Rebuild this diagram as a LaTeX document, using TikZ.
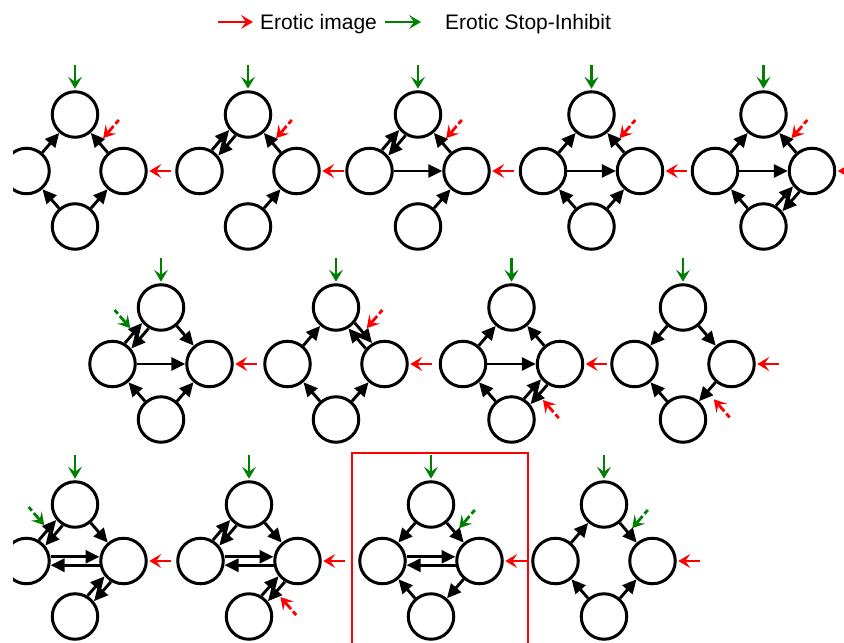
\documentclass[tikz,border=0pt]{standalone}
\usepackage{fontspec}
\setmainfont{Liberation Sans}
\usetikzlibrary{arrows.meta,calc}

\definecolor{inred}{RGB}{255,0,0}
\definecolor{ingreen}{RGB}{0,128,0}

\tikzset{
  cell/.style={circle,draw,line width=3pt,minimum size=45.5pt,inner sep=0pt},
  edge/.style={line width=2.9pt,-{Triangle[length=14pt,width=13pt]}},
  pair/.style={edge,shorten <=24pt,shorten >=24pt},
  feed/.style={line width=2.8pt,-{Stealth[length=12pt,width=14pt,inset=5pt]}},
  rin/.style={feed,inred},
  gin/.style={feed,ingreen},
  dashin/.style={feed,#1,dash pattern=on 5pt off 3pt on 40pt off 0pt},
  motif/.pic={
    \coordinate (-C) at (0,0);
    \node[cell] (-T) at (0,-56.5) {};
    \node[cell] (-L) at (-48.5,0) {};
    \node[cell] (-R) at (48.5,0) {};
    \node[cell] (-B) at (0,55.5) {};
    \draw[gin] ($(-T.north)+(0,-25)$) -- ($(-T.north)+(0,-1.5)$);
    \draw[rin] ($(-R.east)+(23,0)$) -- ($(-R.east)+(1.5,0)$);
  }
}

% one-way connector
\newcommand\edg[3]{\draw[edge] (#1-#2) -- (#1-#3);}
% two-way connector drawn as two parallel arrows
\newcommand\dbl[3]{%
  \draw[pair] ($(#1-#2)!4.2pt!90:(#1-#3)$) -- ($(#1-#3)!4.2pt!-90:(#1-#2)$);
  \draw[pair] ($(#1-#3)!4.2pt!90:(#1-#2)$) -- ($(#1-#2)!4.2pt!-90:(#1-#3)$);}
% dashed input acting on a connector, from outside the motif
% #1 colour, #2 motif, #3 #4 ends of the connector, #5 gap to the connector
\newcommand\mod[5]{%
  \draw[dashin=#1] ($(#2-#3)!0.5!(#2-#4)!-#5-24pt!(#2-C)$) -- ($(#2-#3)!0.5!(#2-#4)!-#5!(#2-C)$);}

\begin{document}
\begin{tikzpicture}[x=1pt,y=-1pt]
\useasboundingbox (0,0) rectangle (844,643);
\clip (13,0) rectangle (844,643);

% legend
\draw[rin,line width=2pt] (218,22) coordinate (lr) -- (253,22) coordinate (lrt);
\node[anchor=base west,font=\fontsize{21pt}{25pt}\selectfont,inner sep=0pt] (lrtext) at (260,29.5) {Erotic image};
\draw[gin,line width=2pt] (385,22) coordinate (lg) -- (421,22) coordinate (lgt);
\node[anchor=base west,font=\fontsize{21pt}{25pt}\selectfont,inner sep=0pt] (lgtext) at (445,29.5) {Erotic Stop-Inhibit};

% motifs
\pic (m1) at (75,171) {motif};
\pic (m2) at (248,171) {motif};
\pic (m3) at (418,171) {motif};
\pic (m4) at (591.5,171) {motif};
\pic (m5) at (763.5,171) {motif};
\pic (m6) at (161,364) {motif};
\pic (m7) at (336,364) {motif};
\pic (m8) at (511.5,364) {motif};
\pic (m9) at (683,364) {motif};
\pic (m10) at (75,561) {motif};
\pic (m11) at (249,561) {motif};
\pic (m12) at (431,561) {motif};
\pic (m13) at (604,561) {motif};

% row 1
\edg{m1}{L}{T}\edg{m1}{R}{T}\edg{m1}{B}{L}\edg{m1}{B}{R}
\mod{inred}{m1}{T}{R}{6pt}

\dbl{m2}{L}{T}\edg{m2}{R}{T}\edg{m2}{B}{R}
\mod{inred}{m2}{T}{R}{6pt}

\dbl{m3}{L}{T}\edg{m3}{L}{R}\edg{m3}{R}{T}\edg{m3}{B}{R}
\mod{inred}{m3}{T}{R}{6pt}

\edg{m4}{L}{T}\edg{m4}{R}{T}\edg{m4}{L}{R}\edg{m4}{B}{L}\edg{m4}{B}{R}
\mod{inred}{m4}{T}{R}{6pt}

\edg{m5}{L}{T}\edg{m5}{R}{T}\edg{m5}{L}{R}\edg{m5}{B}{L}\dbl{m5}{B}{R}
\mod{inred}{m5}{T}{R}{6pt}

% row 2
\dbl{m6}{L}{T}\edg{m6}{T}{R}\edg{m6}{L}{R}\edg{m6}{B}{L}\edg{m6}{B}{R}
\mod{ingreen}{m6}{T}{L}{10pt}

\edg{m7}{L}{T}\dbl{m7}{T}{R}\edg{m7}{B}{L}\edg{m7}{B}{R}
\mod{inred}{m7}{T}{R}{10pt}

\edg{m8}{L}{T}\edg{m8}{R}{T}\edg{m8}{L}{R}\edg{m8}{B}{L}\dbl{m8}{B}{R}
\mod{inred}{m8}{B}{R}{11pt}

\edg{m9}{T}{L}\edg{m9}{T}{R}\edg{m9}{R}{B}\edg{m9}{B}{L}
\mod{inred}{m9}{B}{R}{10pt}

% row 3
\dbl{m10}{L}{T}\edg{m10}{T}{R}\dbl{m10}{L}{R}\dbl{m10}{B}{R}
\mod{ingreen}{m10}{T}{L}{10pt}

\dbl{m11}{L}{T}\edg{m11}{T}{R}\dbl{m11}{L}{R}\dbl{m11}{B}{R}
\mod{inred}{m11}{B}{R}{11pt}

\edg{m12}{T}{L}\edg{m12}{T}{R}\dbl{m12}{L}{R}\edg{m12}{R}{B}\edg{m12}{B}{L}
\mod{ingreen}{m12}{T}{R}{6pt}

\edg{m13}{L}{T}\edg{m13}{T}{R}\edg{m13}{B}{L}\edg{m13}{B}{R}
\mod{ingreen}{m13}{T}{R}{6pt}

% frame around the highlighted motif
\draw[inred,line width=2.4pt] (352,453) rectangle (528,660);
\end{tikzpicture}
\end{document}
